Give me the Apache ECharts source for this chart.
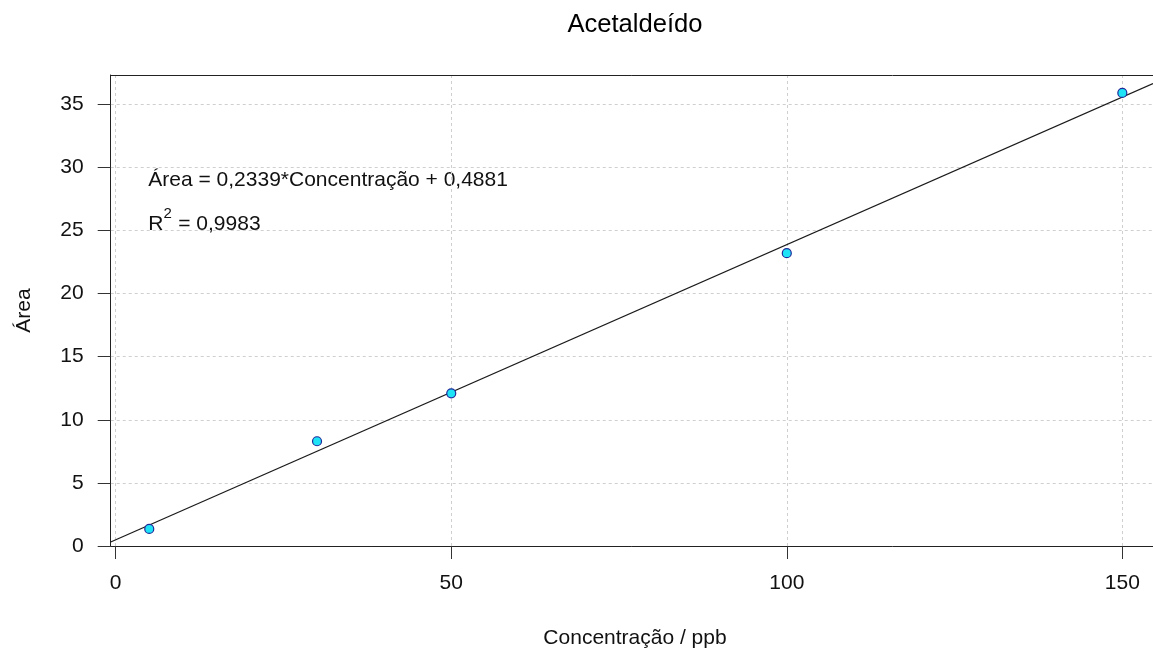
<!DOCTYPE html>
<html>
<head>
<meta charset="utf-8">
<script src="https://cdn.jsdelivr.net/npm/echarts@6/dist/echarts.min.js"></script>
<style>
html,body{margin:0;padding:0;background:#fff;}
#chart{width:1153px;height:650px;}
</style>
</head>
<body>
<div id="chart"></div>
<script>
// ---- data ----
var concentration = [5, 30, 50, 100, 150];
var area = [1.35, 8.3, 12.1, 23.2, 35.9];
var xTicks = [0, 50, 100, 150];
var yTicks = [0, 5, 10, 15, 20, 25, 30, 35];
var fitSlope = 0.2339;
var fitIntercept = 0.4881;
var titleText = 'Acetaldeído';
var xName = 'Concentração / ppb';
var yName = 'Área';
var eqText = 'Área = 0,2339*Concentração + 0,4881';
var r2Value = '0,9983';

// ---- axis ranges ----
var xMin = -0.745, xMax = 154.57;
var yMin = 0, yMax = 37.32;

var points = concentration.map(function (c, i) { return [c, area[i]]; });
var fitLine = [xMin, xMax].map(function (x) { return [x, fitSlope * x + fitIntercept]; });

var FONT = '"Liberation Sans", Arial, sans-serif';
var chart = echarts.init(document.getElementById('chart'));
chart.setOption({
  animation: false,
  backgroundColor: '#ffffff',
  grid: { left: 110.7, top: 75, right: 0, bottom: 104, show: false },
  xAxis: [{
    type: 'value', min: xMin, max: xMax, position: 'bottom',
    axisLine: { show: true, onZero: false, lineStyle: { color: '#222', width: 1 } },
    axisTick: { show: true, length: 13, customValues: xTicks, lineStyle: { color: '#333', width: 1 } },
    axisLabel: { customValues: xTicks, margin: 27, fontSize: 21, color: '#111', fontFamily: FONT },
    splitLine: { show: true, lineStyle: { color: '#cfcfcf', width: 1, type: [3, 3] } }
  }, {
    type: 'value', min: xMin, max: xMax, position: 'top',
    axisLine: { show: true, onZero: false, lineStyle: { color: '#222', width: 1 } },
    axisTick: { show: false }, axisLabel: { show: false }, splitLine: { show: false }
  }],
  yAxis: {
    type: 'value', min: yMin, max: yMax,
    axisLine: { show: true, onZero: false, lineStyle: { color: '#222', width: 1 } },
    axisTick: { show: true, length: 13, customValues: yTicks, lineStyle: { color: '#333', width: 1 } },
    axisLabel: { customValues: yTicks, margin: 27, fontSize: 21, color: '#111', fontFamily: FONT },
    splitLine: { show: true, lineStyle: { color: '#cfcfcf', width: 1, type: [3, 3] } }
  },
  series: [
    {
      type: 'line', data: fitLine, symbol: 'none', silent: true, clip: true,
      lineStyle: { color: '#1a1a1a', width: 1.2 }, z: 3
    },
    {
      type: 'scatter', data: points, symbol: 'circle', symbolSize: 9,
      itemStyle: { color: '#1ee3f7', borderColor: '#1f2a9a', borderWidth: 1.2, opacity: 1 }, z: 4
    }
  ],
  graphic: [
    { type: 'text', x: 635, y: 24.5,
      style: { text: titleText, font: '25.6px ' + FONT, fill: '#000', align: 'center', verticalAlign: 'middle' } },
    { type: 'text', x: 635, y: 638.5,
      style: { text: xName, font: '21px ' + FONT, fill: '#111', align: 'center', verticalAlign: 'middle' } },
    { type: 'text', x: 24, y: 310.5, rotation: Math.PI / 2,
      style: { text: yName, font: '21px ' + FONT, fill: '#111', align: 'center', verticalAlign: 'middle' } },
    { type: 'text', x: 148.3, y: 180,
      style: { text: eqText, font: '21px ' + FONT, fill: '#111', align: 'left', verticalAlign: 'middle' } },
    { type: 'text', x: 148.3, y: 224,
      style: { text: 'R', font: '21px ' + FONT, fill: '#111', align: 'left', verticalAlign: 'middle' } },
    { type: 'text', x: 163.6, y: 214,
      style: { text: '2', font: '15px ' + FONT, fill: '#111', align: 'left', verticalAlign: 'middle' } },
    { type: 'text', x: 172.4, y: 224,
      style: { text: ' = ' + r2Value, font: '21px ' + FONT, fill: '#111', align: 'left', verticalAlign: 'middle' } }
  ]
});
</script>
</body>
</html>
